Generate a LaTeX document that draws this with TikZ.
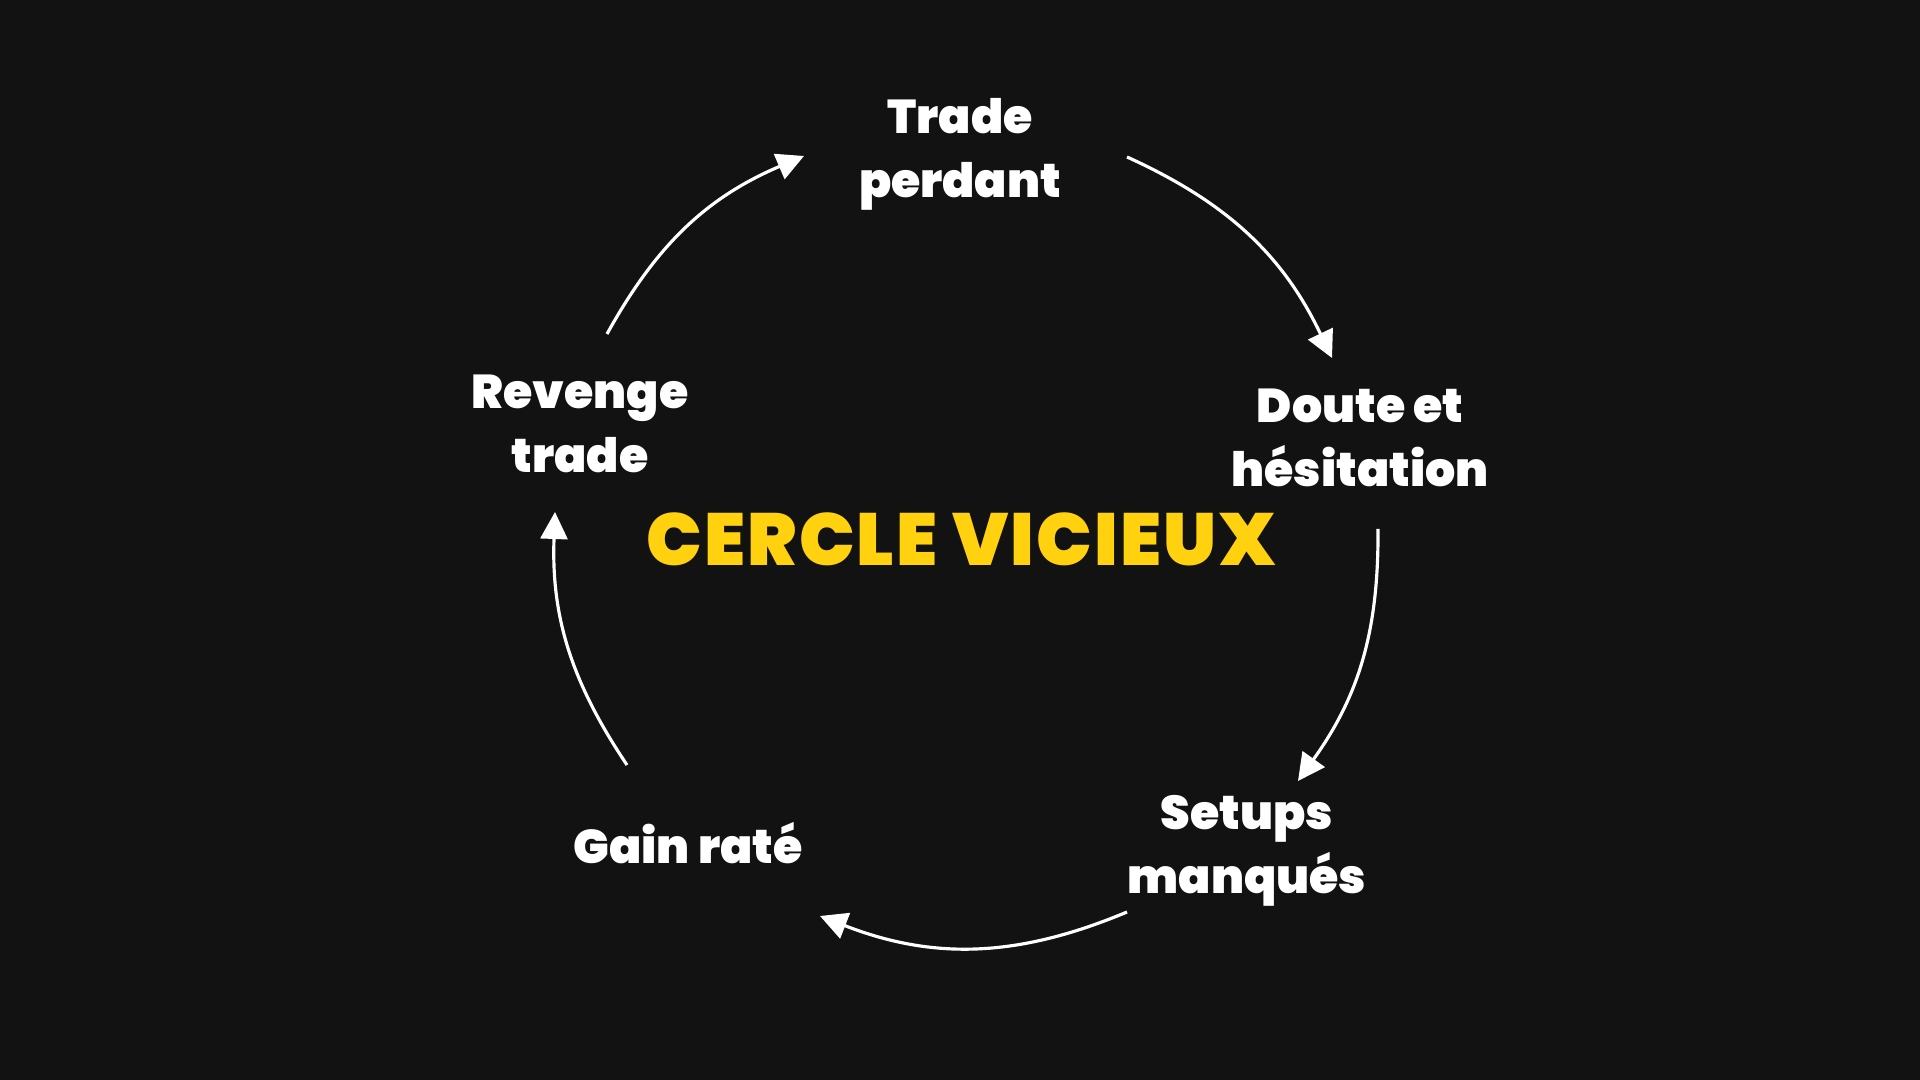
\documentclass[tikz,border=0pt]{standalone}
\usepackage{fontspec}
\setmainfont{Poppins}[BoldFont={Poppins Black}]
\usepackage{xcolor}
\usepackage{tikz}
\usetikzlibrary{arrows.meta,positioning,calc}
\definecolor{bgdark}{HTML}{121212}
\definecolor{titleyellow}{HTML}{FFD10F}

\begin{document}
\begin{tikzpicture}[
  stage/.style={text=white, align=center, font=\bfseries\fontsize{13.5}{18.2}\selectfont},
  flow/.style={draw=white, line width=0.9pt, -{Triangle[length=0.27cm,width=0.27cm]}},
]
\fill[bgdark] (0,0) rectangle (19.2,10.8);
\useasboundingbox (0,0) rectangle (19.2,10.8);

\node[stage] (trade) at (9.60,9.26) {Trade\\perdant};
\node[stage] (doute) at (13.60,6.42) {Doute et\\hésitation};
\node[stage] (setups) at (12.47,2.29) {Setups\\manqués};
\node[stage] (gain) at (6.88,2.37) {Gain raté};
\node[stage] (revenge) at (5.80,6.56) {Revenge\\trade};

\node[text=titleyellow, font=\bfseries\fontsize{21}{24}\selectfont\addfontfeatures{LetterSpace=3}] (cercle) at (9.61,5.41) {CERCLE VICIEUX};

% ends of the arcs round the circle
\coordinate (s1) at (11.27,9.23); \coordinate (e1) at (13.32,7.22);
\coordinate (s2) at (13.78,5.51); \coordinate (e2) at (12.98,2.99);
\coordinate (s3) at (11.27,1.68); \coordinate (e3) at (8.20,1.64);
\coordinate (s4) at (6.27,3.15);  \coordinate (e4) at (5.55,5.68);
\coordinate (s5) at (6.07,7.46);  \coordinate (e5) at (8.04,9.24);

\draw[flow] (s1) to[bend left=20] (e1);
\draw[flow] (s2) to[bend left=18] (e2);
\draw[flow] (s3) to[bend left=22] (e3);
\draw[flow] (s4) to[bend left=18] (e4);
\draw[flow] (s5) to[bend left=19] (e5);
\end{tikzpicture}
\end{document}
